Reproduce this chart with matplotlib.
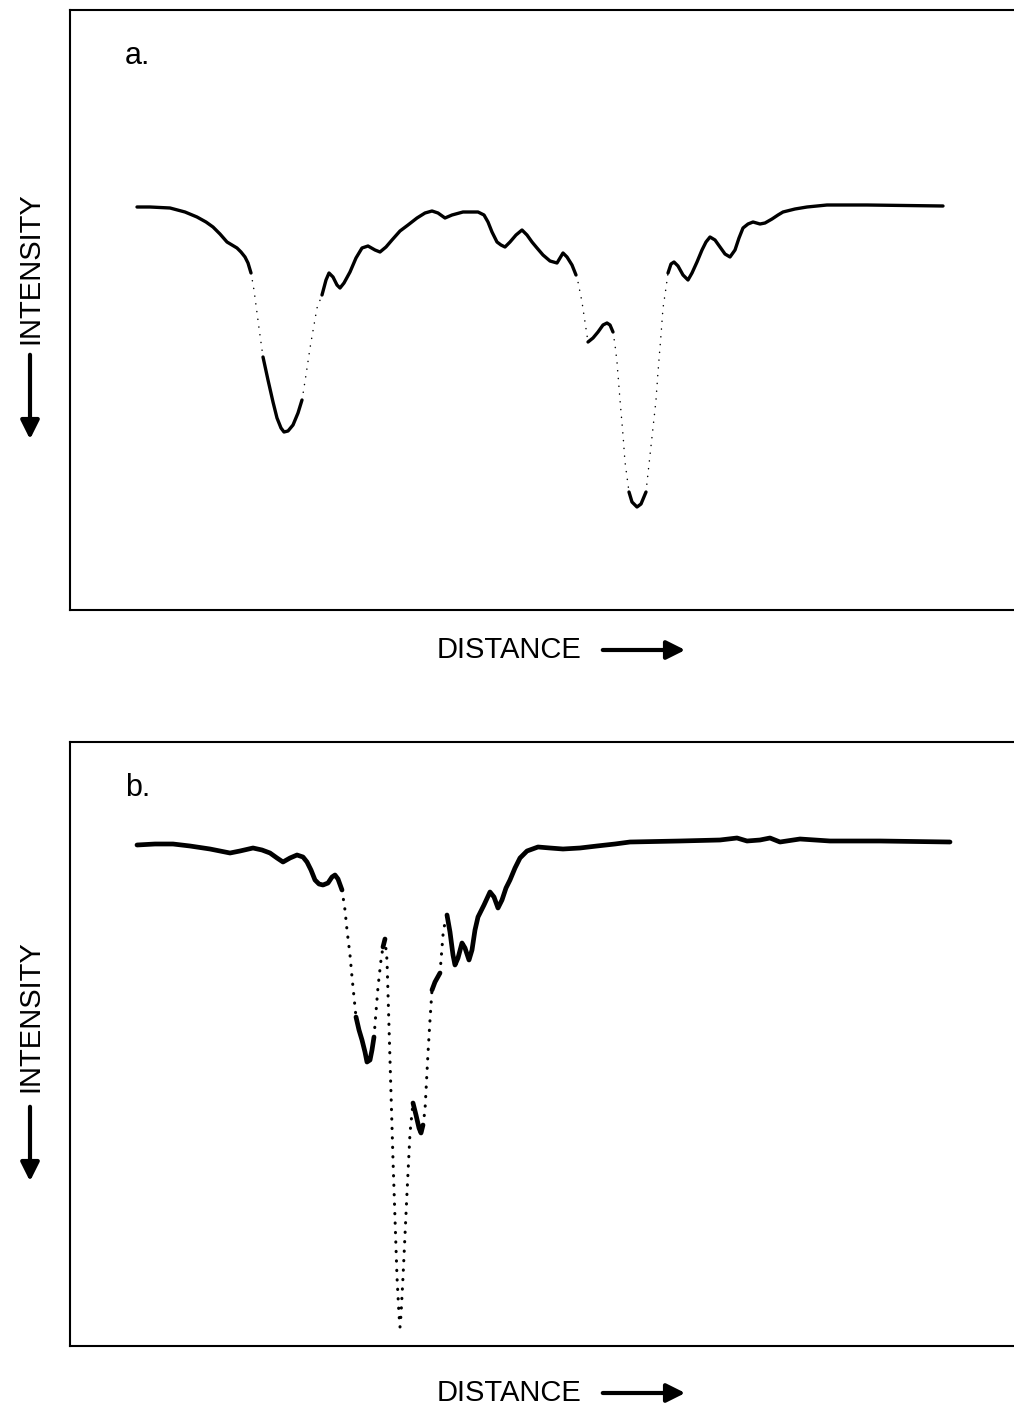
import numpy as np
import matplotlib
matplotlib.use("Agg")
import matplotlib.pyplot as plt
from matplotlib.patches import FancyArrowPatch

# densitometer traces (distance / intensity in chart units,
# intensity grows downward as the arrow says)
dist_a = [67, 80, 100, 115, 127, 136, 143, 150, 157, 162,
          167, 171, 175, 178, 181, 184, 189, 193, 198, 203,
          207, 211, 214, 218, 223, 228, 232, 236, 240, 244,
          247, 252, 256, 259, 263, 267, 270, 274, 280, 286,
          292, 298, 305, 310, 316, 322, 330, 338, 347, 355,
          362, 368, 375, 382, 393, 408, 414, 418, 422, 427,
          431, 435, 440, 446, 452, 457, 462, 467, 473, 480,
          487, 490, 493, 497, 502, 506, 508, 512, 515, 518,
          523, 528, 533, 537, 540, 543, 545, 547, 550, 553,
          555, 559, 562, 567, 571, 576, 580, 583, 586, 588,
          591, 593, 596, 598, 601, 604, 608, 613, 618, 622,
          627, 632, 636, 640, 645, 650, 655, 660, 665, 669,
          673, 678, 683, 690, 695, 702, 708, 713, 725, 737,
          757, 797, 873]
inten_a = [197, 197, 198, 202, 207, 212, 217, 224, 232, 235,
           238, 242, 247, 253, 263, 280, 318, 347, 370, 392,
           408, 418, 422, 421, 415, 403, 390, 365, 338, 315,
           298, 285, 270, 263, 267, 275, 278, 273, 262, 248,
           238, 236, 240, 242, 237, 230, 221, 215, 208, 203,
           201, 203, 208, 205, 202, 202, 205, 212, 222, 232,
           235, 237, 232, 225, 220, 225, 232, 238, 245, 251,
           253, 248, 243, 247, 255, 265, 272, 292, 312, 332,
           328, 322, 315, 313, 315, 322, 335, 352, 390, 425,
           452, 482, 492, 497, 494, 482, 445, 418, 390, 362,
           325, 298, 278, 263, 254, 252, 256, 265, 270, 263,
           252, 240, 232, 227, 230, 237, 244, 247, 240, 228,
           218, 214, 212, 214, 213, 209, 205, 202, 199, 197,
           195, 195, 196]

dist_b = [67, 85, 103, 120, 140, 160, 170, 183, 192, 200,
          207, 213, 220, 227, 233, 237, 241, 245, 249, 253,
          258, 262, 265, 268, 272, 275, 277, 280, 282, 284,
          286, 289, 292, 295, 297, 300, 302, 304, 306, 308,
          311, 313, 315, 317, 320, 323, 327, 329, 330, 331,
          333, 337, 340, 343, 346, 349, 351, 353, 355, 358,
          360, 362, 365, 370, 373, 375, 377, 380, 383, 385,
          388, 392, 395, 399, 402, 405, 408, 414, 420, 424,
          428, 432, 436, 440, 445, 450, 457, 468, 480, 493,
          510, 527, 545, 560, 610, 650, 667, 677, 690, 700,
          710, 730, 760, 810, 880]
inten_b = [103, 102, 102, 104, 107, 111, 109, 106, 108, 111,
           116, 120, 116, 113, 115, 120, 128, 138, 142, 143,
           141, 135, 133, 137, 148, 168, 188, 213, 235, 255,
           275, 288, 298, 310, 320, 318, 308, 295, 270, 245,
           218, 205, 197, 218, 318, 418, 535, 573, 585, 573,
           535, 451, 391, 361, 373, 386, 391, 383, 368, 311,
           278, 248, 240, 231, 193, 180, 173, 190, 213, 223,
           216, 201, 206, 218, 208, 188, 175, 163, 150, 155,
           166, 158, 146, 138, 126, 116, 109, 105, 106, 107,
           106, 104, 102, 100, 99, 98, 96, 99, 98, 96,
           100, 97, 99, 99, 100]

# where the pen moved fast and only left dots
fast_a = [(181, 193), (232, 252), (506, 518), (543, 559), (576, 598)]
fast_b = [(272, 286), (304, 313), (315, 343), (353, 362), (370, 377)]

FONT = ['Liberation Sans', 'DejaVu Sans']


def draw_trace(ax, x, y, fast, lw, dot_lw, gap):
    x = np.asarray(x, float)
    y = np.asarray(y, float)
    mid = (x[:-1] + x[1:]) / 2
    dotted = np.array([any(a <= m <= b for a, b in fast) for m in mid])
    start = 0
    for i in range(1, len(mid) + 1):
        if i == len(mid) or dotted[i] != dotted[start]:
            xs = x[start:i + 1]
            ys = y[start:i + 1]
            if dotted[start]:
                ax.plot(xs, ys, color='black', lw=dot_lw, linestyle=(0, (0.1, gap)),
                        dash_capstyle='round')
            else:
                ax.plot(xs, ys, color='black', lw=lw, solid_capstyle='round',
                        solid_joinstyle='round')
            start = i


fig = plt.figure(figsize=(10.14, 14.10), dpi=100)

ax_a = fig.add_axes([70 / 1014, 800 / 1410, 944 / 1014, 600 / 1410])
ax_b = fig.add_axes([70 / 1014, 64 / 1410, 944 / 1014, 604 / 1410])

draw_trace(ax_a, dist_a, inten_a, fast_a, 2.4, 1.1, 5)
draw_trace(ax_b, dist_b, inten_b, fast_b, 3.4, 2.2, 3)

for ax, h, lab in [(ax_a, 600, 'a.'), (ax_b, 604, 'b.')]:
    ax.set_xlim(0, 944)
    ax.set_ylim(h, 0)
    ax.set_xticks([])
    ax.set_yticks([])
    for s in ['left', 'top', 'bottom']:
        ax.spines[s].set_linewidth(1.5)
    ax.spines['right'].set_visible(False)
    ax.text(55, 46, lab, fontsize=22, family=FONT, va='center', ha='left')

# axis captions with arrows
for y_dist, y_int, y_arr0, y_arr1 in [(650, 268, 352, 442), (1393, 1016, 1104, 1184)]:
    fig.text(437 / 1014, 1 - y_dist / 1410, 'DISTANCE', fontsize=21, family=FONT,
             ha='left', va='center')
    fig.add_artist(FancyArrowPatch(
        (600, 1410 - y_dist), (688, 1410 - y_dist), transform=None,
        arrowstyle='-|>', mutation_scale=28, lw=3, color='black'))
    fig.text(30 / 1014, 1 - y_int / 1410, 'INTENSITY', fontsize=21, family=FONT,
             rotation=90, ha='center', va='center')
    fig.add_artist(FancyArrowPatch(
        (30, 1410 - y_arr0), (30, 1410 - y_arr1), transform=None,
        arrowstyle='-|>', mutation_scale=28, lw=3, color='black'))

fig.savefig('out.png', dpi=100)
